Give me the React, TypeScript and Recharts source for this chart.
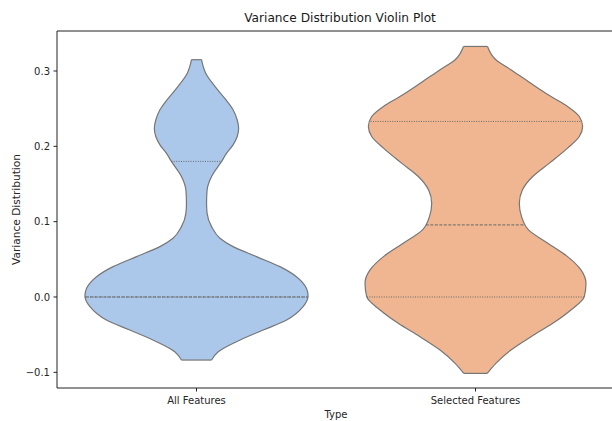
import { ComposedChart, Area, XAxis, YAxis, ReferenceLine } from 'recharts';

const categories = ['All Features', 'Selected Features'];
const fills = ['#abc8ea', '#efb691'];
const edgeColor = '#767676';
const spineColor = '#222';

// outline of each violin: value level (top to bottom) and half width in category units
const allLevels = [0.315, 0.297, 0.2795, 0.262, 0.2485, 0.235, 0.224, 0.213, 0.202, 0.191, 0.18, 0.16, 0.142, 0.1245, 0.111, 0.0934, 0.078, 0.0669, 0.0536, 0.0403, 0.027, 0.0115, 0.0013, -0.0129, -0.0306, -0.0439, -0.0594, -0.0727, -0.0837];
const allHalfWidths = [0.018, 0.033, 0.066, 0.105, 0.131, 0.146, 0.151, 0.146, 0.131, 0.108, 0.09, 0.054, 0.038, 0.036, 0.038, 0.054, 0.084, 0.131, 0.215, 0.299, 0.358, 0.394, 0.4, 0.382, 0.323, 0.239, 0.143, 0.078, 0.054];

const selLevels = [0.3326, 0.315, 0.3017, 0.284, 0.266, 0.253, 0.2396, 0.2263, 0.213, 0.1976, 0.1777, 0.16, 0.142, 0.1245, 0.1067, 0.089, 0.0713, 0.0536, 0.0359, 0.0182, 0.0004, -0.0173, -0.035, -0.0527, -0.0704, -0.0881, -0.1014];
const selHalfWidths = [0.043, 0.073, 0.127, 0.197, 0.271, 0.33, 0.372, 0.384, 0.372, 0.33, 0.265, 0.205, 0.168, 0.157, 0.165, 0.19, 0.259, 0.33, 0.378, 0.396, 0.39, 0.342, 0.277, 0.199, 0.127, 0.073, 0.042];

// inner quartile lines: level, half width, median flag
const allQuartLevels = [0.18, 0.0, 0.0];
const allQuartHalf = [0.09, 0.398, 0.398];
const allQuartMedian = [false, true, false];

const selQuartLevels = [0.233, 0.0957, 0.0];
const selQuartHalf = [0.376, 0.178, 0.389];
const selQuartMedian = [false, true, false];

const yTicks = [-0.1, 0.0, 0.1, 0.2, 0.3];
const X_MIN = -0.5;
const X_MAX = 1.5;
const Y_MIN = -0.1208;
const Y_MAX = 0.3531;

const rows = [
  ...allLevels.map((v, i) => ({ v, all: [-allHalfWidths[i], allHalfWidths[i]], sel: [null, null] })),
  ...selLevels.map((v, i) => ({ v, all: [null, null], sel: [1 - selHalfWidths[i], 1 + selHalfWidths[i]] })),
];

const fmtY = (v: number) => (v < 0 ? '\u2212' + Math.abs(v).toFixed(1) : v.toFixed(1));

// left, bottom and top frame lines
const spines = [
  [{ x: X_MIN, y: Y_MIN }, { x: X_MIN, y: Y_MAX }],
  [{ x: X_MIN, y: Y_MIN }, { x: X_MAX, y: Y_MIN }],
  [{ x: X_MIN, y: Y_MAX }, { x: X_MAX, y: Y_MAX }],
];

function capLines(center: number, levels: number[], halves: number[]) {
  const ends = [0, levels.length - 1];
  return ends.map((i) => (
    <ReferenceLine
      key={`cap-${center}-${i}`}
      segment={[
        { x: center - halves[i], y: levels[i] },
        { x: center + halves[i], y: levels[i] },
      ]}
      stroke={edgeColor}
      strokeWidth={1.2}
    />
  ));
}

function quartLines(center: number, levels: number[], halves: number[], median: boolean[]) {
  return levels.map((lv, i) => (
    <ReferenceLine
      key={`q-${center}-${i}`}
      segment={[
        { x: center - halves[i], y: lv },
        { x: center + halves[i], y: lv },
      ]}
      stroke="#6a6a6a"
      strokeWidth={1}
      strokeDasharray={median[i] ? '3 1.5' : '1 1.4'}
    />
  ));
}

export default function App() {
  const tickStyle = { fontSize: 10, fill: '#262626' };
  // the axes run a few pixels past the right edge of the frame, which clips them
  return (
    <div style={{ position: 'absolute', left: 0, top: 0, width: 612, height: 421, overflow: 'hidden', fontFamily: 'DejaVu Sans', background: '#fff' }}>
      <ComposedChart
        width={615}
        height={421}
        data={rows}
        layout="vertical"
        margin={{ top: 31, right: 0, bottom: 0, left: 0 }}
      >
        <XAxis
          type="number"
          domain={[X_MIN, X_MAX]}
          allowDataOverflow
          ticks={[0, 1]}
          tickFormatter={(i: number) => categories[i]}
          tick={tickStyle}
          tickSize={3.5}
          tickMargin={5}
          height={33}
          stroke={spineColor}
          axisLine={false}
          label={{ value: 'Type', position: 'insideBottom', offset: 3, fontSize: 10, fill: '#262626' }}
        />
        <YAxis
          type="number"
          dataKey="v"
          reversed
          domain={[Y_MIN, Y_MAX]}
          allowDataOverflow
          ticks={yTicks}
          tickFormatter={fmtY}
          tick={tickStyle}
          tickSize={3.5}
          tickMargin={3.5}
          width={57}
          stroke={spineColor}
          axisLine={false}
          label={{
            value: 'Variance Distribution',
            angle: -90,
            position: 'insideLeft',
            offset: 16,
            fontSize: 10.6,
            fill: '#262626',
            style: { textAnchor: 'middle' },
          }}
        />
        <Area
          dataKey="all"
          type="monotone"
          connectNulls
          fill={fills[0]}
          fillOpacity={1}
          stroke={edgeColor}
          strokeWidth={1.2}
          isAnimationActive={false}
        />
        <Area
          dataKey="sel"
          type="monotone"
          connectNulls
          fill={fills[1]}
          fillOpacity={1}
          stroke={edgeColor}
          strokeWidth={1.2}
          isAnimationActive={false}
        />
        {capLines(0, allLevels, allHalfWidths)}
        {capLines(1, selLevels, selHalfWidths)}
        {quartLines(0, allQuartLevels, allQuartHalf, allQuartMedian)}
        {quartLines(1, selQuartLevels, selQuartHalf, selQuartMedian)}
        {spines.map((seg, i) => (
          <ReferenceLine key={`spine-${i}`} segment={seg} stroke={spineColor} strokeWidth={1} />
        ))}
      </ComposedChart>
      <svg width={612} height={31} style={{ position: 'absolute', left: 0, top: 0 }}>
        <text x={340} y={22} textAnchor="middle" fontSize={12.2} fill="#1a1a1a" fontFamily="DejaVu Sans">
          Variance Distribution Violin Plot
        </text>
      </svg>
    </div>
  );
}
